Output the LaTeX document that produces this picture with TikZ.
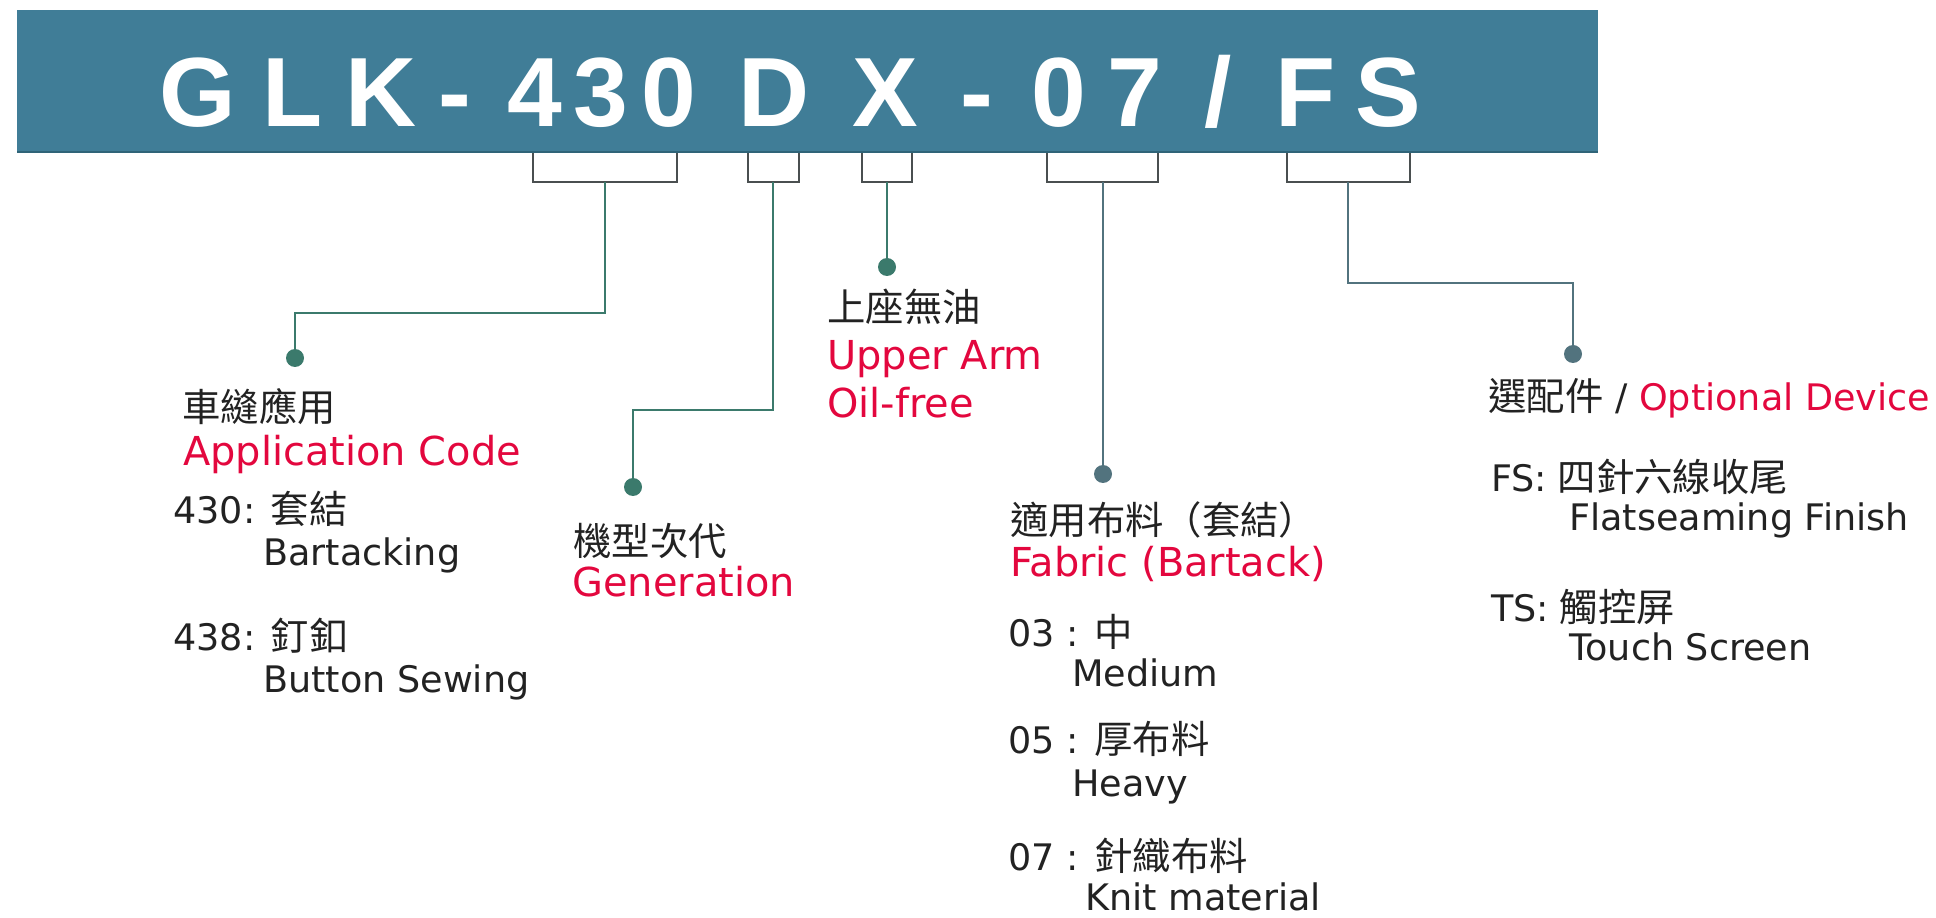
\documentclass[tikz,border=0pt]{standalone}
\usepackage{fontspec}
\setmainfont{DejaVu Sans}
\newfontfamily\cjk[Scale=1.05]{Noto Sans CJK TC}
\newfontfamily\titlefont{Liberation Sans}
\usetikzlibrary{positioning}
\definecolor{mbanner}{HTML}{407D97}
\definecolor{mbannerd}{HTML}{2F6478}
\definecolor{mred}{HTML}{E3073E}
\definecolor{mtext}{HTML}{222222}
\definecolor{mgreen}{HTML}{3B7A6C}
\definecolor{mslate}{HTML}{52737E}
\definecolor{mgray}{HTML}{4A4F50}
\tikzstyle{ttl}=[font=\titlefont\bfseries\fontsize{56}{56}\selectfont, text=white, anchor=base, inner sep=0]
\tikzstyle{lbl}=[font=\fontsize{20.8}{25}\selectfont, text=mtext, anchor=base west, inner sep=0]
\tikzstyle{lblr}=[lbl, font=\fontsize{22.7}{27}\selectfont, text=mred]
\tikzstyle{dotg}=[circle, fill=mgreen, minimum size=0.36cm, inner sep=0]
\tikzstyle{dots}=[dotg, fill=mslate]
\tikzstyle{brk}=[draw=mgray, line width=1.1pt]
\tikzstyle{lg}=[draw=mgreen, line width=1.4pt]
\tikzstyle{ls}=[draw=mslate, line width=1.4pt]

\begin{document}
\begin{tikzpicture}[x=0.02cm, y=-0.02cm]
    \useasboundingbox (0,0) rectangle (1936,918);
    \fill[mbanner] (17,10) rectangle (1598,153);
    \draw[mbannerd, line width=1.5pt] (17,152) -- (1598,152);

    \node[ttl] at (198,127) (tG) {G};
    \node[ttl] at (293,127) (tL) {L};
    \node[ttl] at (381,127) (tK) {K};
    \node[ttl] at (455,127) (td1) {-};
    \node[ttl] at (535,127) (t4) {4};
    \node[ttl] at (601,127) (t3) {3};
    \node[ttl] at (669,127) (t0a) {0};
    \node[ttl] at (774,127) (tD) {D};
    \node[ttl] at (885,127) (tX) {X};
    \node[ttl] at (977,127) (td2) {-};
    \node[ttl] at (1059,127) (t0b) {0};
    \node[ttl] at (1135,127) (t7) {7};
    \node[ttl] at (1218,127) (tsl) {/};
    \node[ttl] at (1306,127) (tF) {F};
    \node[ttl] at (1388,127) (tS) {S};

    \draw[brk] (533,153) |- (677,182) -- (677,153);
    \draw[brk] (748,153) |- (799,182) -- (799,153);
    \draw[brk] (862,153) |- (912,182) -- (912,153);
    \draw[brk] (1047,153) |- (1158,182) -- (1158,153);
    \draw[brk] (1287,153) |- (1410,182) -- (1410,153);
    \coordinate (b430) at (605,182);
    \coordinate (bD) at (773,182);
    \coordinate (bX) at (887,182);
    \coordinate (b07) at (1103,182);
    \coordinate (bFS) at (1348,182);

    \node[dotg] at (295,358) (d430) {};
    \node[dotg] at (633,487) (dD) {};
    \node[dotg] at (887,267) (dX) {};
    \node[dots] at (1103,474) (d07) {};
    \node[dots] at (1573,354) (dFS) {};

    \draw[lg] (b430) -- ++(0,131) -| (d430);
    \draw[lg] (bD) -- ++(0,228) -| (dD);
    \draw[lg] (bX) -- (dX);
    \draw[ls] (b07) -- (d07);
    \draw[ls] (bFS) -- ++(0,101) -| (dFS);

    \node[lbl] at (182,421) (app) {\cjk 車縫應用};
    \node[lblr] at (183,465) (appen) {Application Code};
    \node[lbl] at (173,523) (a430) {430: {\cjk 套結}};
    \node[lbl] at (263,565) (a430en) {Bartacking};
    \node[lbl] at (173,650) (a438) {438: {\cjk 釘釦}};
    \node[lbl] at (263,692) (a438en) {Button Sewing};

    \node[lbl] at (573,555) (gen) {\cjk 機型次代};
    \node[lblr] at (572,596) (genen) {Generation};

    \node[lbl] at (827,322) (arm) {\cjk 上座無油};
    \node[lblr] at (827,370) (armen) {Upper Arm};
    \node[lblr] at (827,418) (oilen) {Oil-free};

    \node[lbl] at (1010,534) (fab) {\cjk 適用布料（套結）};
    \node[lblr] at (1010,576) (faben) {Fabric (Bartack)};
    \node[lbl] at (1008,646) (f03) {03 : {\cjk 中}};
    \node[lbl] at (1072,686) (f03en) {Medium};
    \node[lbl] at (1008,753) (f05) {05 : {\cjk 厚布料}};
    \node[lbl] at (1072,796) (f05en) {Heavy};
    \node[lbl] at (1008,870) (f07) {07 : {\cjk 針織布料}};
    \node[lbl] at (1085,910) (f07en) {Knit material};

    \node[lbl] at (1488,411) (opt) {{\cjk 選配件} / \textcolor{mred}{Optional Device}};
    \node[lbl] at (1491,491) (ofs) {FS:\hspace{6pt}{\cjk 四針六線收尾}};
    \node[lbl] at (1569,530) (ofsen) {Flatseaming Finish};
    \node[lbl] at (1491,621) (ots) {TS:\hspace{6pt}{\cjk 觸控屏}};
    \node[lbl] at (1569,660) (otsen) {Touch Screen};
\end{tikzpicture}
\end{document}
